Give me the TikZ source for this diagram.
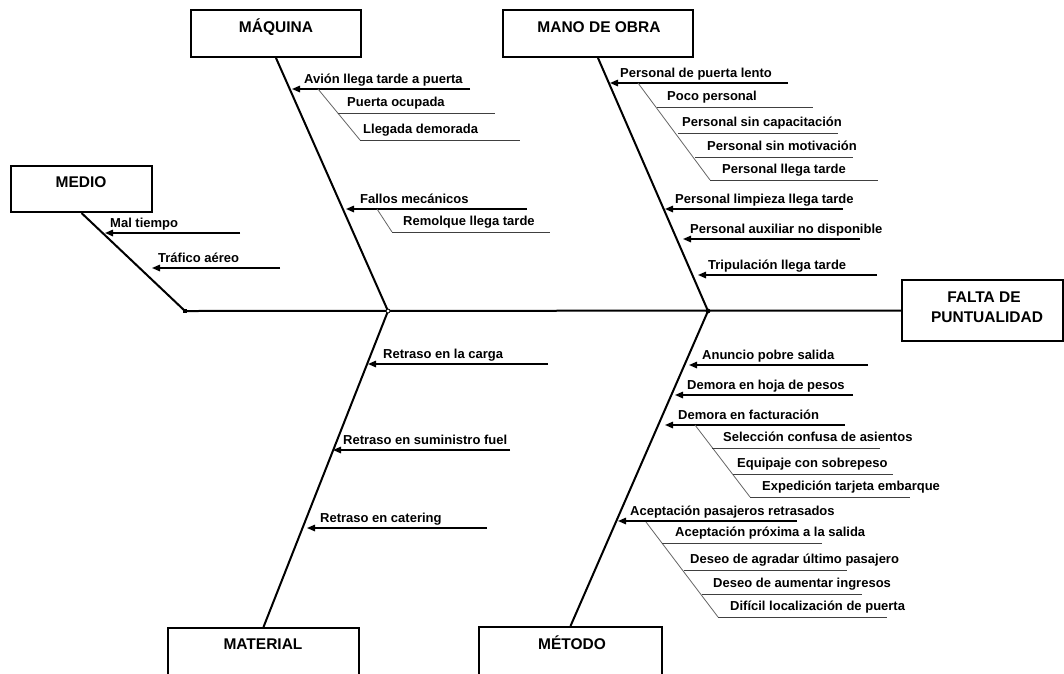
\documentclass[tikz,border=0pt]{standalone}
\usepackage{fontspec}
\setmainfont{Liberation Sans}
\usetikzlibrary{arrows.meta}
\begin{document}
\begin{tikzpicture}[x=1pt,y=-1pt,
  catbox/.style={draw=black,line width=2pt,fill=white,inner sep=0pt},
  cattext/.style={anchor=base,inner sep=0pt,font=\fontsize{15.5}{18}\selectfont\bfseries},
  bone/.style={line width=2pt,black},
  causearrow/.style={line width=1.5pt,black,-{Triangle[length=8pt,width=6.5pt]}},
  subslant/.style={line width=0.8pt,black!60},
  subline/.style={line width=1pt,black!75},
  causetext/.style={anchor=base west,inner sep=0pt,font=\fontsize{13}{15}\selectfont\bfseries}]
\clip (0,0) rectangle (1064,673);
\fill[white] (0,0) rectangle (1064,673);

% category boxes
\node[catbox,minimum width=170,minimum height=47] (maq) at (276,33.5) {};
\node[catbox,minimum width=190,minimum height=47] (mob) at (598,33.5) {};
\node[catbox,minimum width=141,minimum height=46] (med) at (81.5,189) {};
\node[catbox,minimum width=161,minimum height=61] (fal) at (982.5,310.5) {};
\node[catbox,minimum width=191,minimum height=56] (mat) at (263.5,656) {};
\node[catbox,minimum width=183,minimum height=56] (met) at (570.5,655) {};

\node[cattext] (maq-t) at (276,32) {MÁQUINA};
\node[cattext] (mob-t) at (599,32) {MANO DE OBRA};
\node[cattext] (med-t) at (81,187) {MEDIO};
\node[cattext] (fal-t1) at (984,302) {FALTA DE};
\node[cattext] (fal-t2) at (987,322) {PUNTUALIDAD};
\node[cattext] (mat-t) at (263,649) {MATERIAL};
\node[cattext] (met-t) at (572,649) {MÉTODO};

% spine and main bones
\coordinate (tail) at (185,311);
\coordinate (j1) at (388,311);
\coordinate (j2) at (708,311);
\draw[bone] (tail) -- (fal.west);
\draw[bone] (med.south) -- (tail);
\draw[bone] (maq.south) -- (j1);
\draw[bone] (j1) -- (mat.north);
\draw[bone] (mob.south) -- (j2);
\draw[bone] (j2) -- (met.north);
\fill[black] (tail) ++(-1.8,-1.8) rectangle ++(3.6,3.6);
\draw[line width=0.8pt,fill=white] (j1) circle (2);
\fill[black] (j2) circle (2.4);

% causes pointing at a bone: name/tip x/y/end x/text x/text
\foreach \nm/\tx/\yy/\ex/\lx/\lab in {
  ma1/292/89/470/304/{Avión llega tarde a puerta},
  ma2/346/209/527/360/{Fallos mecánicos},
  mo1/610/83/788/620/{Personal de puerta lento},
  mo2/665/209/843/675/{Personal limpieza llega tarde},
  mo3/683/239/860/690/{Personal auxiliar no disponible},
  mo4/698/275/877/708/{Tripulación llega tarde},
  me1/105/233/240/110/{Mal tiempo},
  me2/152/268/280/158/{Tráfico aéreo},
  mt1/368/364/548/383/{Retraso en la carga},
  mt2/333/450/510/343/{Retraso en suministro fuel},
  mt3/307/528/487/320/{Retraso en catering},
  md1/689/365/868/702/{Anuncio pobre salida},
  md2/675/395/853/687/{Demora en hoja de pesos},
  md3/665/425/845/678/{Demora en facturación},
  md4/618/521/797/630/{Aceptación pasajeros retrasados}} {
  \coordinate (\nm-e) at (\ex,\yy);
  \coordinate (\nm-t) at (\tx,\yy);
  \draw[causearrow] (\nm-e) -- (\nm-t);
  \node[causetext] (\nm-l) at (\lx,\yy-6) {\lab};
}

% slanted sub-branches
\foreach \nm/\ax/\ay/\bx/\by in {
  sa/318/89/360/140,
  sb/377/209/392/232,
  sc/638/83/710/180,
  sd/695/425/750/497,
  se/646/522/718/617} {
  \coordinate (\nm-a) at (\ax,\ay);
  \coordinate (\nm-b) at (\bx,\by);
  \draw[subslant] (\nm-a) -- (\nm-b);
}

% sub-causes: name/start x/y/end x/text x/text
\foreach \nm/\sx/\yy/\ex/\lx/\lab in {
  ms1/338/113/495/347/{Puerta ocupada},
  ms2/360/140/520/363/{Llegada demorada},
  ms3/392/232/550/403/{Remolque llega tarde},
  os1/657/107/813/667/{Poco personal},
  os2/678/133/838/682/{Personal sin capacitación},
  os3/695/157/853/707/{Personal sin motivación},
  os4/710/180/878/722/{Personal llega tarde},
  ds1/712/448/880/723/{Selección confusa de asientos},
  ds2/733/474/893/737/{Equipaje con sobrepeso},
  ds3/750/497/910/762/{Expedición tarjeta embarque},
  ds4/662/543/822/675/{Aceptación próxima a la salida},
  ds5/684/570/847/690/{Deseo de agradar último pasajero},
  ds6/702/594/862/713/{Deseo de aumentar ingresos},
  ds7/718/617/887/730/{Difícil localización de puerta}} {
  \coordinate (\nm-s) at (\sx,\yy);
  \coordinate (\nm-e) at (\ex,\yy);
  \draw[subline] (\nm-s) -- (\nm-e);
  \node[causetext] (\nm-l) at (\lx,\yy-7) {\lab};
}
\end{tikzpicture}
\end{document}
